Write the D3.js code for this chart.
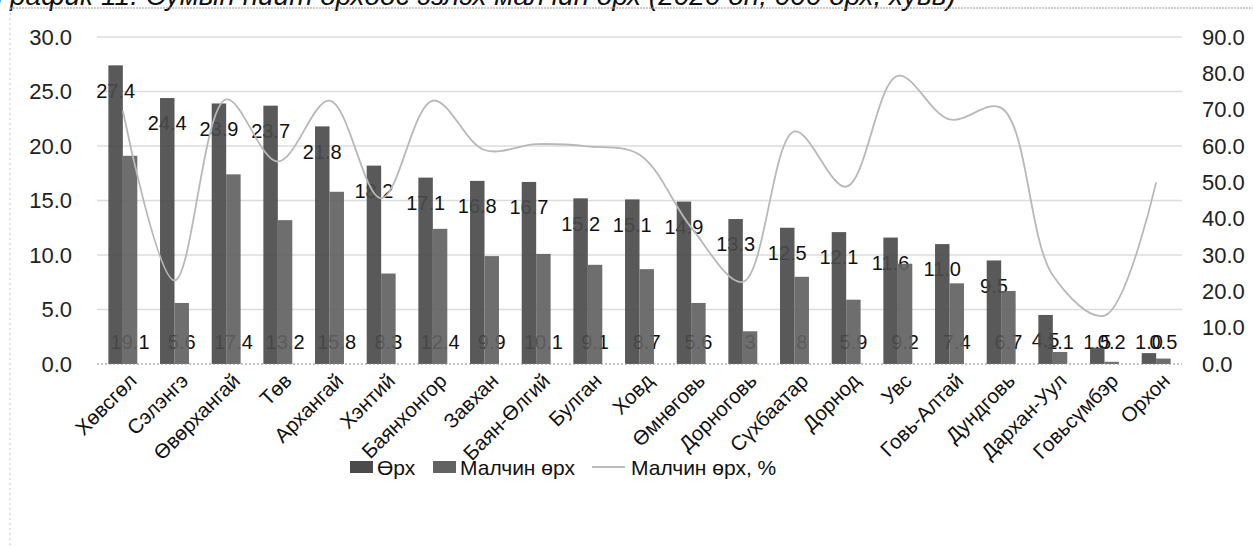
<!DOCTYPE html>
<html>
<head>
<meta charset="utf-8">
<script src="https://cdn.jsdelivr.net/npm/d3@7"></script>
<style>
  html, body { margin: 0; padding: 0; background: #fff; }
  svg { display: block; font-family: "Liberation Sans", Arial, sans-serif; }
</style>
</head>
<body>
<svg id="chart" width="1253" height="547"></svg>
<script>
// Аймгуудын нийт өрх ба малчин өрх (мянган өрх), малчин өрхийн хувь
const categories = ["Хөвсгөл", "Сэлэнгэ", "Өвөрхангай", "Төв", "Архангай", "Хэнтий", "Баянхонгор",
  "Завхан", "Баян-Өлгий", "Булган", "Ховд", "Өмнөговь", "Дорноговь", "Сүхбаатар", "Дорнод",
  "Увс", "Говь-Алтай", "Дундговь", "Дархан-Уул", "Говьсүмбэр", "Орхон"];
const households = [27.4, 24.4, 23.9, 23.7, 21.8, 18.2, 17.1, 16.8, 16.7, 15.2, 15.1, 14.9, 13.3,
  12.5, 12.1, 11.6, 11.0, 9.5, 4.5, 1.5, 1.0];
const herderHouseholds = [19.1, 5.6, 17.4, 13.2, 15.8, 8.3, 12.4, 9.9, 10.1, 9.1, 8.7, 5.6, 3.0,
  8.0, 5.9, 9.2, 7.4, 6.7, 1.1, 0.2, 0.5];
const herderShare = [69.7, 23.0, 72.8, 55.7, 72.5, 45.6, 72.5, 58.9, 60.5, 59.9, 57.6, 37.6, 22.6,
  64.0, 48.8, 79.3, 67.3, 70.5, 24.4, 13.3, 50.0];
const leftTicks = [0, 5, 10, 15, 20, 25, 30];
const rightTicks = [0, 10, 20, 30, 40, 50, 60, 70, 80, 90];
const seriesNames = ["Өрх", "Малчин өрх", "Малчин өрх, %"];
const titleText = "График 11. Сумын нийт өрхөөс эзлэх малчин өрх (2020 он, 000 өрх, хувь)";

const svg = d3.select("#chart");
const plot = { left: 97, right: 1182, top: 37, bottom: 364 };
const colOrh = "#4b4b4b", colHerder = "#626262", colLine = "#b8b8b8";

// Title line (its upper half runs off the top edge) and frame
svg.append("text").attr("x", -4).attr("y", 5)
  .attr("font-size", 28).attr("font-style", "italic").attr("fill", "#111")
  .text(titleText);
svg.append("line").attr("x1", 10).attr("x2", 1253).attr("y1", 8).attr("y2", 8)
  .attr("stroke", "#9a9a9a").attr("stroke-dasharray", "2,1").attr("stroke-width", 1);
svg.append("line").attr("x1", 10).attr("x2", 10).attr("y1", 8).attr("y2", 547)
  .attr("stroke", "#c8c8c8").attr("stroke-dasharray", "2,3").attr("stroke-width", 1);

const x0 = d3.scaleBand().domain(categories).range([plot.left, plot.right])
  .paddingInner(0.44).paddingOuter(0.22);
const x1 = d3.scaleBand().domain([0, 1]).range([0, x0.bandwidth()]);
const yL = d3.scaleLinear().domain([0, 30]).range([plot.bottom, plot.top]);
const yR = d3.scaleLinear().domain([0, 90]).range([plot.bottom, plot.top]);

// Gridlines
svg.append("g").selectAll("line").data(leftTicks.filter(d => d > 0)).join("line")
  .attr("x1", plot.left).attr("x2", plot.right)
  .attr("y1", d => yL(d)).attr("y2", d => yL(d))
  .attr("stroke", "#dcdcdc").attr("stroke-width", 1.5);

// Left axis
const leftAxis = svg.append("g").attr("transform", `translate(${plot.left},0)`)
  .call(d3.axisLeft(yL).tickValues(leftTicks).tickFormat(d3.format(".1f")).tickSize(0).tickPadding(25));
leftAxis.select(".domain").remove();
leftAxis.selectAll("text").attr("font-size", 22).attr("fill", "#222")
  .attr("font-family", "Liberation Sans, Arial, sans-serif");

// Right axis
const rightAxis = svg.append("g").attr("transform", `translate(${plot.right},0)`)
  .call(d3.axisRight(yR).tickValues(rightTicks).tickFormat(d3.format(".1f")).tickSize(0).tickPadding(20));
rightAxis.select(".domain").remove();
rightAxis.selectAll("text").attr("font-size", 22).attr("fill", "#222")
  .attr("font-family", "Liberation Sans, Arial, sans-serif");

// Category axis
const xAxis = svg.append("g").attr("transform", `translate(0,${plot.bottom})`)
  .call(d3.axisBottom(x0).tickSize(0).tickPadding(0));
xAxis.select(".domain").remove();
xAxis.selectAll("text")
  .attr("font-size", 20.5).attr("fill", "#111")
  .attr("font-family", "Liberation Sans, Arial, sans-serif")
  .attr("text-anchor", "end")
  .attr("y", null)
  .attr("transform", "translate(5,8) rotate(-45)")
  .attr("dy", "0.7em");

// Data labels (drawn under the bars)
const labels = svg.append("g").attr("font-size", 20).attr("fill", "#111").attr("text-anchor", "middle");
labels.selectAll("text.orh").data(categories).join("text").attr("class", "orh")
  .attr("x", (d, i) => x0(d) + x1(0) + x1.bandwidth() / 2)
  .attr("y", (d, i) => Math.min(yL(households[i]) + 25, yL(0) - 22))
  .attr("dy", "0.36em")
  .text((d, i) => d3.format(".1f")(households[i]));
labels.selectAll("text.herd").data(categories).join("text").attr("class", "herd")
  .attr("x", (d, i) => x0(d) + x1(1) + x1.bandwidth() / 2)
  .attr("y", yL(0) - 22)
  .attr("dy", "0.36em")
  .text((d, i) => d3.format(".1f")(herderHouseholds[i]).replace(/\.0$/, ""));

// Bars
const bars = svg.append("g");
bars.selectAll("rect.orh").data(categories).join("rect").attr("class", "orh")
  .attr("x", d => x0(d) + x1(0)).attr("width", x1.bandwidth())
  .attr("y", (d, i) => yL(households[i])).attr("height", (d, i) => yL(0) - yL(households[i]))
  .attr("fill", colOrh).attr("fill-opacity", 0.92);
bars.selectAll("rect.herd").data(categories).join("rect").attr("class", "herd")
  .attr("x", d => x0(d) + x1(1)).attr("width", x1.bandwidth())
  .attr("y", (d, i) => yL(herderHouseholds[i])).attr("height", (d, i) => yL(0) - yL(herderHouseholds[i]))
  .attr("fill", colHerder).attr("fill-opacity", 0.92);

// Zero baseline
svg.append("line").attr("x1", plot.left).attr("x2", plot.right)
  .attr("y1", yL(0)).attr("y2", yL(0))
  .attr("stroke", "#888").attr("stroke-dasharray", "2,2").attr("stroke-width", 1);

// Smoothed share line on the right axis
const line = d3.line()
  .x((d, i) => x0(categories[i]) + x0.bandwidth() / 2)
  .y(d => yR(d))
  .curve(d3.curveCatmullRom.alpha(0.5));
svg.append("path").datum(herderShare).attr("d", line)
  .attr("fill", "none").attr("stroke", colLine).attr("stroke-width", 1.8);

// Legend
const legend = svg.append("g").attr("font-size", 21).attr("fill", "#111");
const ly = 467;
const items = [
  { x: 350, type: "rect", color: colOrh },
  { x: 433, type: "rect", color: colHerder },
  { x: 592, type: "line", color: "#777" }
];
items.forEach((it, i) => {
  if (it.type === "rect") {
    legend.append("rect").attr("x", it.x).attr("y", ly - 6).attr("width", 23).attr("height", 12)
      .attr("fill", it.color);
  } else {
    legend.append("line").attr("x1", it.x).attr("x2", it.x + 33).attr("y1", ly).attr("y2", ly)
      .attr("stroke", it.color).attr("stroke-width", 1);
  }
  legend.append("text").attr("x", it.x + (it.type === "rect" ? 27 : 39)).attr("y", ly).attr("dy", "0.36em")
    .text(seriesNames[i]);
});
</script>
</body>
</html>
